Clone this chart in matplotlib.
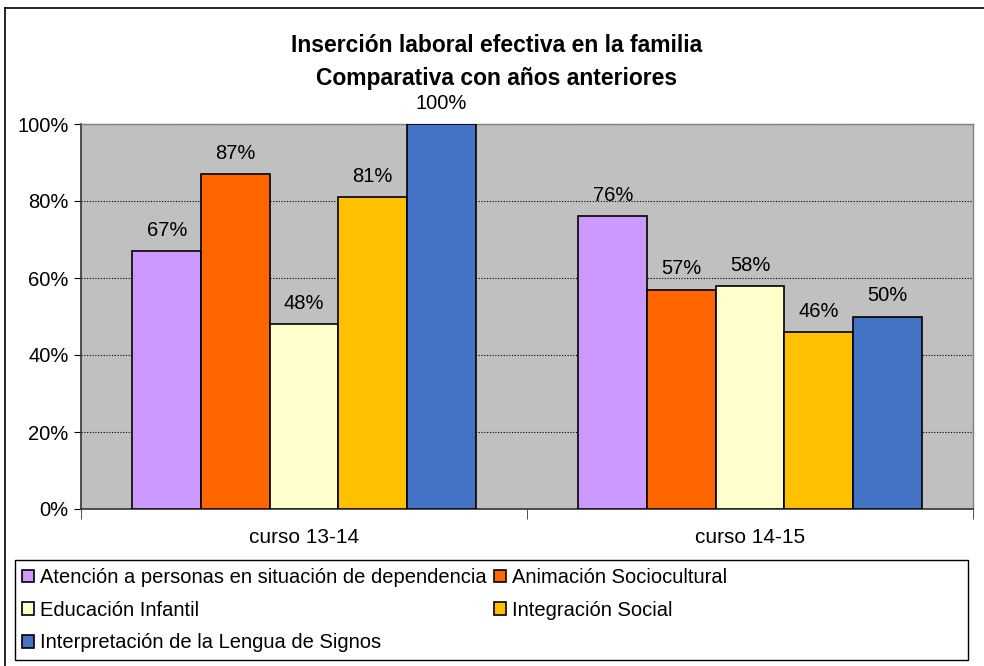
import matplotlib
matplotlib.use("Agg")
import matplotlib.pyplot as plt
from matplotlib.lines import Line2D
from matplotlib.patches import Rectangle
from matplotlib.ticker import FixedLocator, FuncFormatter

plt.rcParams["font.family"] = ["Liberation Sans", "DejaVu Sans"]

CURSOS = ["curso 13-14", "curso 14-15"]
CICLOS = ["Atención a personas en situación de dependencia",
          "Animación Sociocultural",
          "Educación Infantil",
          "Integración Social",
          "Interpretación de la Lengua de Signos"]
COLORES = ["#CC99FF", "#FF6600", "#FFFFCC", "#FFC000", "#4472C4"]
atencion = [67, 76]
animacion = [87, 57]
educacion = [48, 58]
integracion = [81, 46]
interpretacion = [100, 50]
SERIES = [atencion, animacion, educacion, integracion, interpretacion]

fig = plt.figure(figsize=(9.84, 6.66), dpi=100)
ax = fig.add_axes([81/984, 1 - 509/666, 892/984, 385/666])
ax.set_facecolor("#C0C0C0")

# excel style: gap width 150%
w = 1 / 6.5
handles = []
for i, (vals, col) in enumerate(zip(SERIES, COLORES)):
    xs = [c + (i - 2) * w for c in range(len(CURSOS))]
    b = ax.bar(xs, vals, w, color=col, edgecolor="black", linewidth=1.2, zorder=3,
               label=CICLOS[i])
    ax.bar_label(b, labels=[f"{v}%" for v in vals], padding=8, fontsize=14.5)
    handles.append(b)

ax.set_xlim(-0.5, 1.5)
ax.set_ylim(0, 100)
ax.yaxis.set_major_locator(FixedLocator([0, 20, 40, 60, 80, 100]))
ax.yaxis.set_major_formatter(FuncFormatter(lambda v, p: f"{v:.0f}%"))
ax.grid(axis="y", color="black", linestyle=(0, (1, 1.5)), linewidth=0.8, zorder=1)
ax.tick_params(axis="y", labelsize=14.5, length=5, direction="out", pad=4)

ax.set_xticks(range(len(CURSOS)))
ax.set_xticklabels(CURSOS, fontsize=15)
ax.tick_params(axis="x", which="major", length=0, pad=14)
ax.set_xticks([-0.5, 0.5, 1.5], minor=True)
ax.tick_params(axis="x", which="minor", length=7, color="#333333")

for s in ("top", "right"):
    ax.spines[s].set_color("#808080")
    ax.spines[s].set_linewidth(1)
for s in ("left", "bottom"):
    ax.spines[s].set_color("#333333")
    ax.spines[s].set_linewidth(1.2)

fig.text(0.505, 1 - 46/666, "Inserción laboral efectiva en la familia",
         ha="center", va="center", fontsize=16.5, fontweight="bold")
fig.text(0.505, 1 - 79/666, "Comparativa con años anteriores",
         ha="center", va="center", fontsize=16.5, fontweight="bold")

# legend box + entries (column order as in the original)
fig.patches.append(Rectangle((15/984, 1 - 660/666), 953/984, 100/666,
                             transform=fig.transFigure, facecolor="white",
                             edgecolor="black", linewidth=1))
order = [0, 2, 4, 1, 3]
fig.legend([handles[k] for k in order], [CICLOS[k] for k in order], ncol=2,
           loc="upper left", bbox_to_anchor=(22/984, 1 - 568/666), frameon=False,
           fontsize=14.5, handlelength=0.6, handleheight=0.6, handletextpad=0.3,
           labelspacing=0.68, columnspacing=0.35, borderpad=0, borderaxespad=0)

# outer chart frame
fig.lines.append(Line2D([5/984, 5/984], [0, 1 - 8/666], transform=fig.transFigure,
                        color="black", linewidth=1.2))
fig.lines.append(Line2D([5/984, 1], [1 - 8/666, 1 - 8/666], transform=fig.transFigure,
                        color="black", linewidth=1.2))

fig.savefig("out.png", dpi=100)
